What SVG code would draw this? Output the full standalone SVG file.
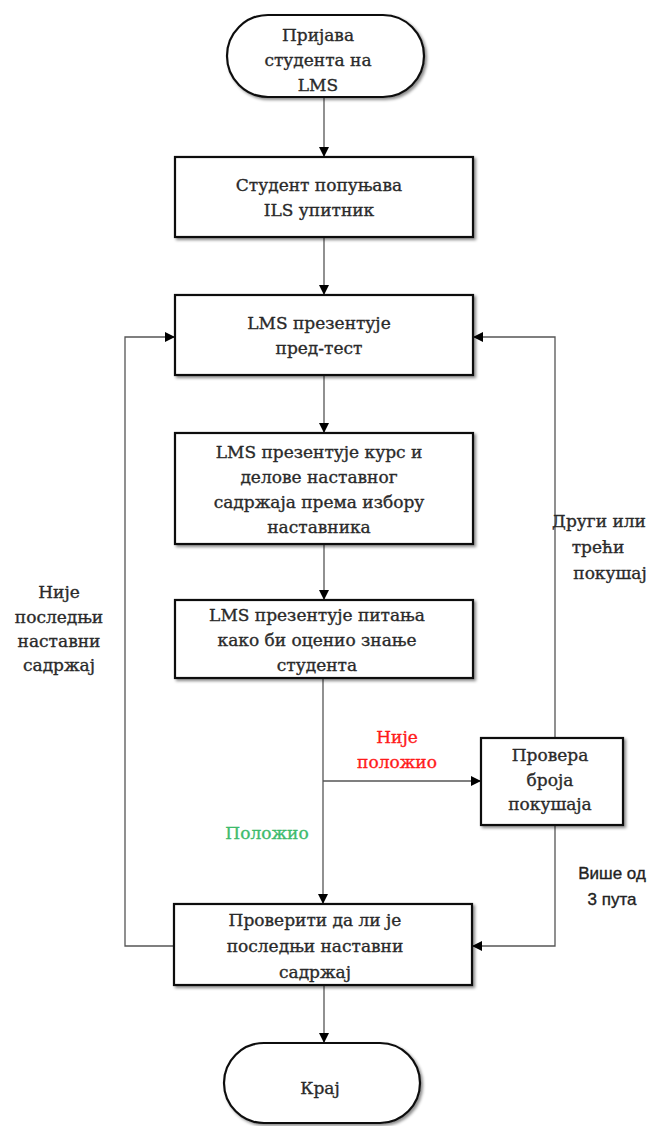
<svg xmlns="http://www.w3.org/2000/svg" width="665" height="1126" viewBox="0 0 665 1126">
  <defs>
    <filter id="shadow" x="-10%" y="-10%" width="125%" height="130%">
      <feDropShadow dx="2" dy="2" stdDeviation="1.5" flood-color="#000" flood-opacity="0.45"/>
    </filter>
    <marker id="arrow" viewBox="0 0 10 10" refX="10" refY="5" markerWidth="10" markerHeight="10" markerUnits="userSpaceOnUse" orient="auto">
      <path d="M0,0 L10,5 L0,10 z" fill="#000"/>
    </marker>
  </defs>
  <style>
    .node { fill: #fff; stroke: #111; stroke-width: 2.2; filter: url(#shadow); }
    .lbl { font-family: "DejaVu Serif", "Liberation Serif", serif; font-size: 17px; fill: #2a2a2a; stroke: #2a2a2a; stroke-width: 0.35; text-anchor: middle; }
    .sans { font-family: "Liberation Sans", "DejaVu Sans", sans-serif; font-size: 17px; fill: #222; stroke: #222; stroke-width: 0.35; text-anchor: middle; }
    .red { fill: #ff1a1a; stroke: #ff1a1a; }
    .green { fill: #3dbb6c; stroke: #3dbb6c; }
    .conn { fill: none; stroke: #555; stroke-width: 1.3; }
    .arr { marker-end: url(#arrow); }
  </style>

  <!-- connectors -->
  <g id="connectors">
    <path class="conn arr" d="M324,97 V157"/>
    <path class="conn arr" d="M324,237 V295"/>
    <path class="conn arr" d="M324,375 V433"/>
    <path class="conn arr" d="M324,544 V600"/>
    <path class="conn arr" d="M323,678 V904"/>
    <path class="conn arr" d="M323,781 H481"/>
    <path class="conn arr" d="M555,738 V337 H473"/>
    <path class="conn arr" d="M555,825 V946 H472"/>
    <path class="conn arr" d="M174,946 H125 V337 H175"/>
    <path class="conn arr" d="M324,985 V1043"/>
  </g>

  <!-- start -->
  <g id="start">
    <rect class="node" x="227" y="15" width="197" height="82" rx="41" ry="41"/>
    <text class="lbl" x="318" y="41">Пријава</text>
    <text class="lbl" x="318" y="66">студента на</text>
    <text class="lbl" x="318" y="91">LMS</text>
  </g>

  <g id="questionnaire">
    <rect class="node" x="175" y="157" width="298" height="80"/>
    <text class="lbl" x="319" y="191">Студент попуњава</text>
    <text class="lbl" x="319" y="216">ILS упитник</text>
  </g>

  <g id="pretest">
    <rect class="node" x="175" y="295" width="298" height="80"/>
    <text class="lbl" x="319" y="329">LMS презентује</text>
    <text class="lbl" x="319" y="354">пред-тест</text>
  </g>

  <g id="course">
    <rect class="node" x="175" y="433" width="298" height="111"/>
    <text class="lbl" x="319" y="458">LMS презентује курс и</text>
    <text class="lbl" x="319" y="483">делове наставног</text>
    <text class="lbl" x="319" y="508">садржаја према избору</text>
    <text class="lbl" x="319" y="533">наставника</text>
  </g>

  <g id="questions">
    <rect class="node" x="175" y="600" width="298" height="78"/>
    <text class="lbl" x="317" y="621">LMS презентује питања</text>
    <text class="lbl" x="317" y="646">како би оценио знање</text>
    <text class="lbl" x="317" y="671">студента</text>
  </g>

  <g id="attempts">
    <rect class="node" x="481" y="738" width="142" height="87"/>
    <text class="lbl" x="550" y="761">Провера</text>
    <text class="lbl" x="550" y="786">броја</text>
    <text class="lbl" x="550" y="810">покушаја</text>
  </g>

  <g id="lastcontent">
    <rect class="node" x="174" y="904" width="298" height="81"/>
    <text class="lbl" x="315" y="926">Проверити да ли је</text>
    <text class="lbl" x="315" y="952">последњи наставни</text>
    <text class="lbl" x="315" y="978">садржај</text>
  </g>

  <g id="end">
    <rect class="node" x="224" y="1043" width="196" height="80" rx="40" ry="40"/>
    <text class="lbl" x="320" y="1094">Крај</text>
  </g>

  <!-- edge labels -->
  <g id="labels">
    <text class="lbl red" x="397" y="743">Није</text>
    <text class="lbl red" x="397" y="768">положио</text>
    <text class="lbl green" x="267" y="839">Положио</text>
    <text class="lbl" x="59" y="598">Није</text>
    <text class="lbl" x="59" y="623">последњи</text>
    <text class="lbl" x="59" y="647">наставни</text>
    <text class="lbl" x="59" y="671">садржај</text>
    <text class="lbl" x="599" y="527">Други или</text>
    <text class="lbl" x="598" y="553">трећи</text>
    <text class="lbl" x="610" y="579">покушај</text>
    <text class="sans" x="612" y="879">Више од</text>
    <text class="sans" x="612" y="905">3 пута</text>
  </g>
</svg>
